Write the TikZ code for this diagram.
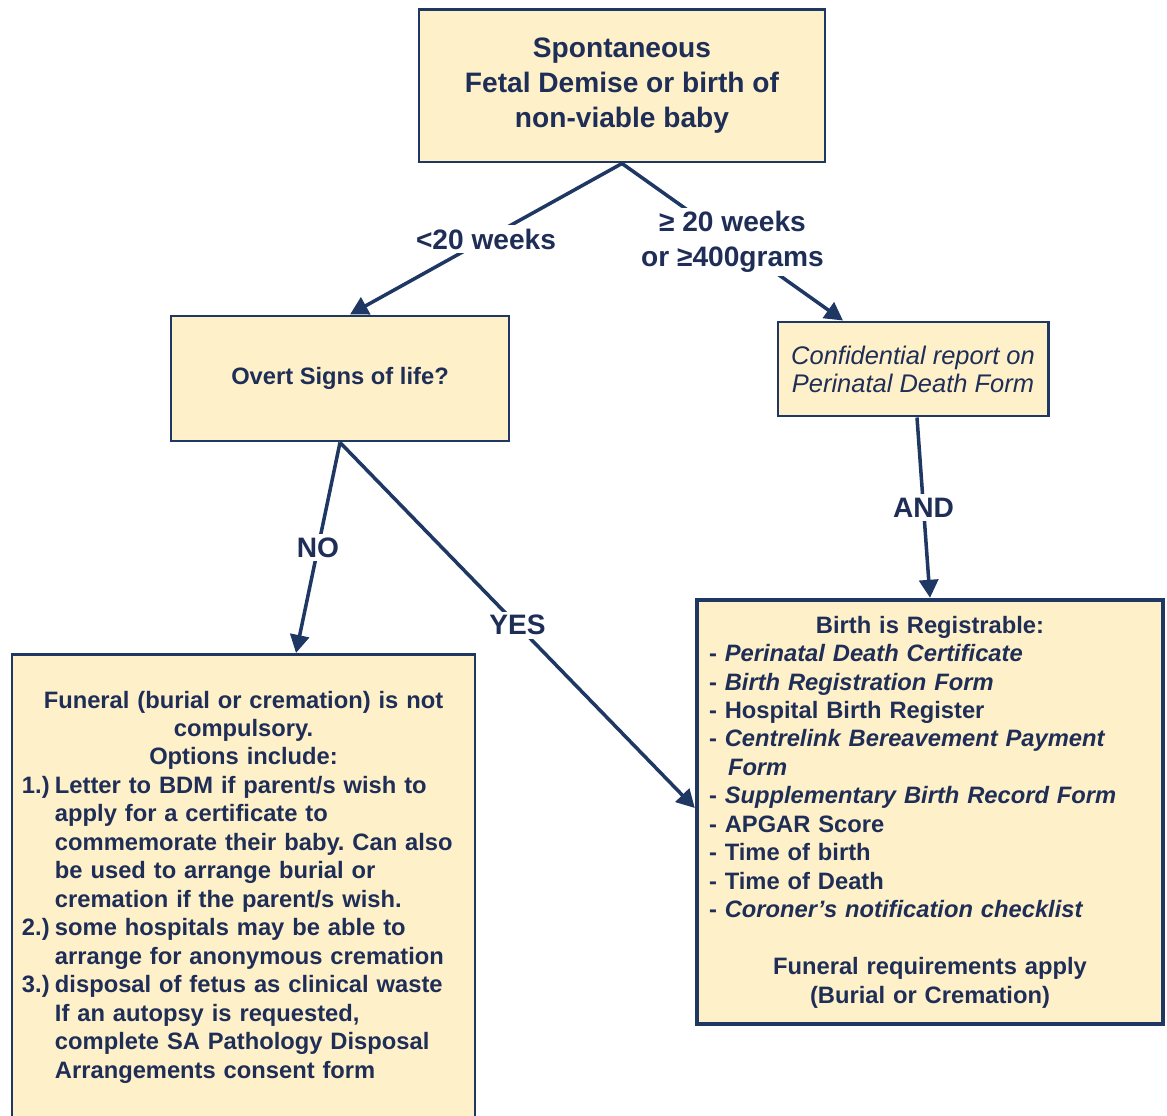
\documentclass[tikz,border=0pt]{standalone}
\usepackage{fontspec}
\setmainfont{Liberation Sans}
\usetikzlibrary{arrows.meta}

\definecolor{navy}{HTML}{1F3763}
\definecolor{ink}{HTML}{1F2E57}
\definecolor{cream}{HTML}{FEF0C9}
\frenchspacing

\begin{document}
\begin{tikzpicture}[
		box/.style={rectangle,draw=navy,line width=1.7pt,fill=cream,text=ink,font=\bfseries\fontsize{13.5}{16.2}\selectfont},
		cond/.style={fill=white,text=ink,inner sep=2pt,align=center,font=\bfseries\fontsize{16}{19.9}\selectfont},
		flow/.style={draw=navy,line width=2pt,-{Triangle[length=0.36cm,width=0.38cm]}}
	]
				\useasboundingbox (0,0) rectangle (23.34,22.3);
				\clip (0,0) rectangle (23.34,22.3);
				
				\begin{scope}[every node/.append style={box}]
					\node (demise) at (12.44,20.58) [minimum width=8.12cm,minimum height=3.04cm,align=center,font=\bfseries\fontsize{16}{19.9}\selectfont] {Spontaneous\\Fetal Demise or birth of\\non-viable baby};
					\node (overt) at (6.8,14.73) [minimum width=6.76cm,minimum height=2.5cm] {Overt Signs of life?};
					\node (report) at (18.26,14.92) [minimum width=5.4cm,minimum height=1.88cm,align=center,font=\itshape\fontsize{14.5}{15.9}\selectfont] {Confidential report on\\Perinatal Death Form};
					\node (funeral) at (4.87,9.24) [anchor=north,minimum width=9.26cm,minimum height=9.3cm,inner xsep=0.2cm,text width=8.86cm] {%
						{\centering Funeral (burial or cremation) is not\\compulsory.\\Options include:\par}
						\raggedright
						\hangindent=0.66cm\hangafter=1\makebox[0.66cm][l]{1.)}Letter to BDM if parent/s wish to\newline apply for a certificate to\newline commemorate their baby. Can also\newline be used to arrange burial or\newline cremation if the parent/s wish.\par
						\hangindent=0.66cm\hangafter=1\makebox[0.66cm][l]{2.)}some hospitals may be able to\newline arrange for anonymous cremation\par
						\hangindent=0.66cm\hangafter=1\makebox[0.66cm][l]{3.)}disposal of fetus as clinical waste\newline If an autopsy is requested,\newline complete SA Pathology Disposal\newline Arrangements consent form\par};
					\node (birth) at (18.6,6.06) [minimum width=9.32cm,minimum height=8.48cm,line width=2.5pt,inner xsep=0.24cm,text width=8.84cm] {%
						{\centering Birth is Registrable:\par}
						\raggedright
						- \textit{Perinatal Death Certificate}\\
						- \textit{Birth Registration Form}\\
						- Hospital Birth Register\\
						- \textit{Centrelink Bereavement Payment}\\
						\hspace*{0.38cm}\textit{Form}\\
						- \textit{Supplementary Birth Record Form}\\
						- APGAR Score\\
						- Time of birth\\
						- Time of Death\\
						- \textit{Coroner’s notification checklist}\par
						\mbox{}\par
						{\centering Funeral requirements apply\\(Burial or Cremation)\par}};
				\end{scope}
				
				% branches
				\draw [flow] (demise.south) -- node[cond] {<20 weeks} ([xshift=0.2cm]overt.north);
				\draw [flow] (demise.south) -- node[cond] {≥ 20 weeks\\or ≥400grams} ([xshift=-1.4cm]report.north);
				\draw [flow] (overt.south) -- node[cond] {NO} ([xshift=1.05cm]funeral.north);
				\draw [flow] (overt.south) -- node[cond] {YES} ([yshift=0.08cm]birth.west);
				\draw [flow] ([xshift=0.08cm]report.south) -- node[cond] {AND} (birth.north);
			\end{tikzpicture}
\end{document}
